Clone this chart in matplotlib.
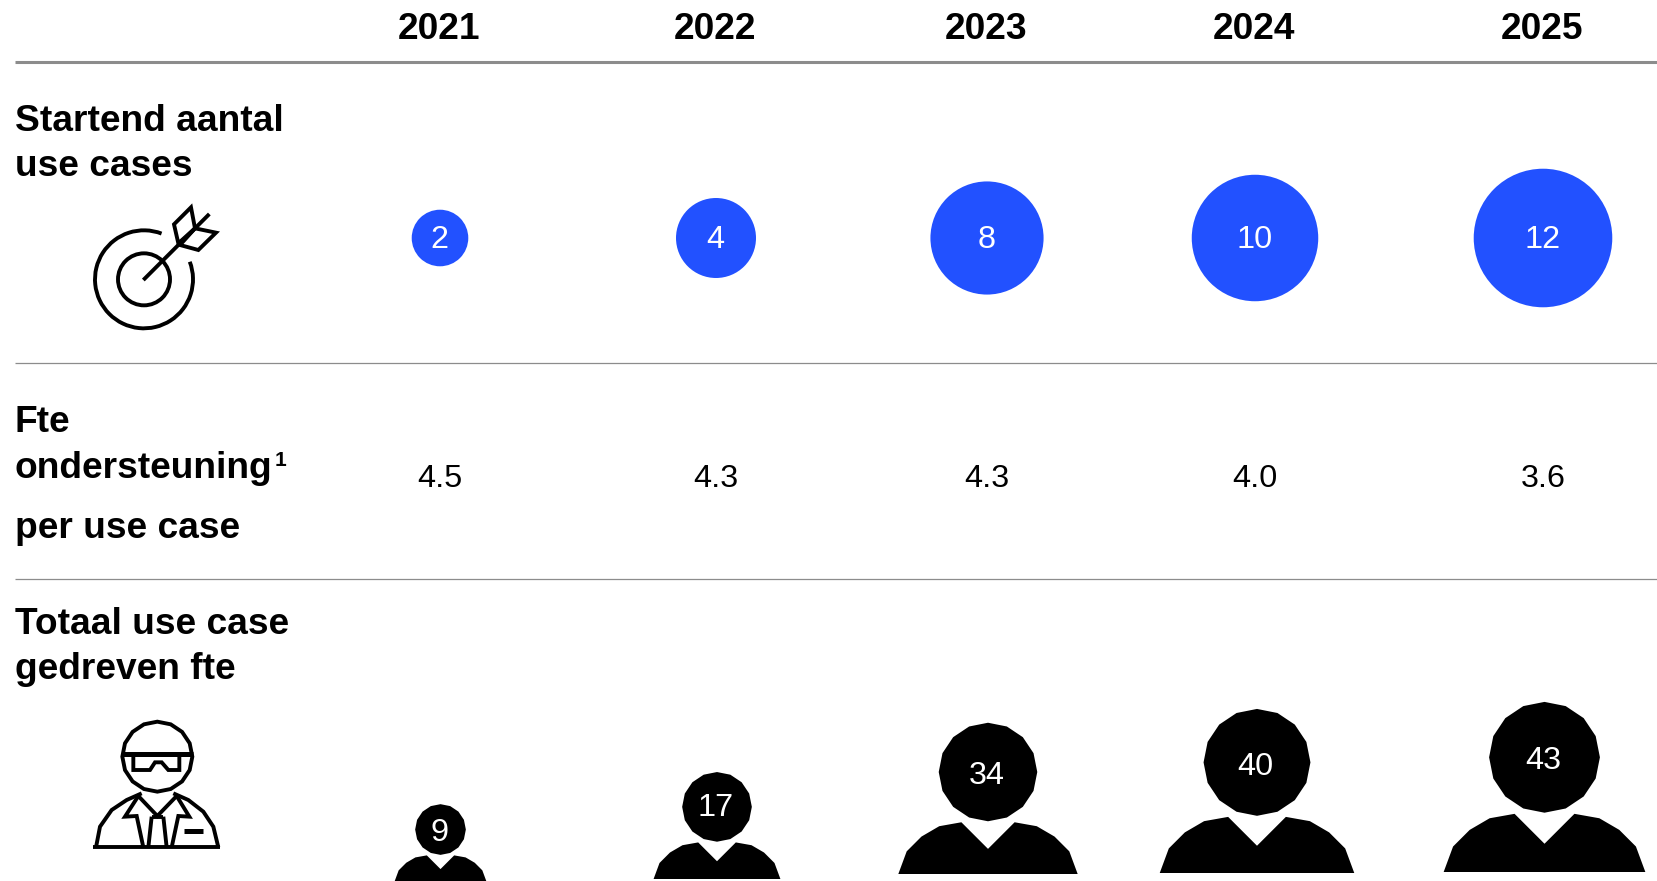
import numpy as np
import matplotlib
matplotlib.use("Agg")
import matplotlib.pyplot as plt
from matplotlib.patches import Circle, Polygon, RegularPolygon, Arc

plt.rcParams['font.family'] = ['Liberation Sans', 'DejaVu Sans']

years = ['2021', '2022', '2023', '2024', '2025']
use_cases = [2, 4, 8, 10, 12]
fte_per_case = ['4.5', '4.3', '4.3', '4.0', '3.6']
total_fte = [9, 17, 34, 40, 43]

# layout, in pixels
col_x = [440, 716, 987, 1255, 1543]
person_x = [440.5, 717, 988, 1257, 1544.5]
feet_y = [882, 879, 874, 873, 872]
person_label_dy = [11, 9, 12, 13, 12]
bubble_y = 238
bubble_k = 20.0    # radius per sqrt(value)
person_k = 8.45
BLUE = '#2251FF'
GREY = '#8c8c8c'

fig = plt.figure(figsize=(16.58, 8.81), dpi=100)
ax = fig.add_axes([0, 0, 1, 1])
ax.set_xlim(0, 1658)
ax.set_ylim(881, 0)
ax.axis('off')

BIG = 26.7
NUM = 23.3

# header and separators
for x, y in zip(col_x, years):
    ax.text(x - 1, 39, y, ha='center', va='baseline', fontsize=BIG, fontweight='bold')
ax.plot([15, 1658], [61.5, 61.5], color=GREY, lw=2.2, solid_capstyle='butt')
for y in [363, 578.5]:
    ax.plot([15, 1658], [y, y], color=GREY, lw=0.9, solid_capstyle='butt')

# row titles
rows = [('Startend aantal', 131), ('use cases', 175.5), ('Fte', 432),
        ('ondersteuning', 478), ('per use case', 538), ('Totaal use case', 634),
        ('gedreven fte', 679)]
for s, y in rows:
    ax.text(15, y, s, ha='left', va='baseline', fontsize=BIG, fontweight='bold')
ax.text(274.5, 466.5, '1', ha='left', va='baseline', fontsize=15, fontweight='bold')

# use case bubbles, area follows the value
for x, v in zip(col_x, use_cases):
    ax.add_patch(Circle((x, bubble_y), bubble_k * np.sqrt(v), fc=BLUE, ec='none'))
    ax.text(x - 0.5, bubble_y + 10.5, str(v), ha='center', va='baseline', fontsize=NUM, color='white')

# fte per use case
for x, s in zip(col_x, fte_per_case):
    ax.text(x, 487, s, ha='center', va='baseline', fontsize=NUM)

# people, head area follows the value
shoulder = np.array([(-0.54, 1.02), (-0.99, 1.10), (-1.35, 1.31), (-1.65, 1.61), (-1.82, 2.07)])
for x, lx, bottom, v, dy in zip(person_x, col_x, feet_y, total_fte, person_label_dy):
    r = person_k * np.sqrt(v)
    cy = bottom - 2.07 * r
    ax.add_patch(RegularPolygon((x, cy), 16, radius=r, fc='black', ec='none'))
    right = shoulder[::-1] * [-1, 1]
    body = np.vstack([[(0, 1.56)], shoulder, right])
    ax.add_patch(Polygon(np.c_[x + body[:, 0] * r, cy + body[:, 1] * r], fc='black', ec='none'))
    ax.text(lx, cy + dy, str(v), ha='center', va='baseline', fontsize=NUM, color='white')


# target icon
def t_xy(pts):
    return [(60 + a / 3, 190 + b / 3) for a, b in pts]


LW = 2.8
cx, cy = t_xy([(252, 268)])[0]
ax.add_patch(Arc((cx, cy), 98, 98, theta1=-21, theta2=291, ec='black', lw=LW))
ax.add_patch(Circle((cx, cy), 26, fc='none', ec='black', lw=LW))
arrow = t_xy([(250, 270), (448, 72)])
ax.plot(*zip(*arrow), color='black', lw=LW, solid_capstyle='butt')
ax.add_patch(Polygon(t_xy([(355, 160), (342, 103), (393, 52), (405, 115)]), closed=True, fc='none', ec='black', lw=LW, joinstyle='miter'))
ax.add_patch(Polygon(t_xy([(360, 165), (415, 180), (468, 128), (405, 115)]), closed=True, fc='none', ec='black', lw=LW, joinstyle='miter'))


# worker icon
def w_xy(pts):
    return [(70 + a / 3, 710 + b / 3) for a, b in pts]


def w_line(pts, lw=LW):
    xs, ys = zip(*w_xy(pts))
    ax.plot(xs, ys, color='black', lw=lw, solid_joinstyle='miter', solid_capstyle='butt')


hx, hy = w_xy([(262, 140)])[0]
ax.add_patch(RegularPolygon((hx, hy), 16, radius=35, fc='none', ec='black', lw=LW))
w_line([(155, 133), (368, 133)], lw=3.6)
w_line([(190, 135), (190, 180), (240, 180), (255, 157), (275, 157), (295, 180), (328, 180), (328, 135)])
w_line([(78, 412), (90, 350), (125, 300), (170, 270), (215, 250)])
w_line([(310, 250), (355, 270), (400, 305), (430, 350), (445, 412)])
w_line([(70, 412), (450, 412)])
w_line([(205, 258), (165, 320), (200, 318), (220, 412)])
w_line([(320, 258), (358, 320), (325, 318), (305, 412)])
w_line([(205, 258), (262, 318), (320, 258)])
w_line([(245, 320), (280, 320)])
w_line([(245, 320), (235, 412)])
w_line([(280, 320), (290, 412)])
w_line([(343, 363), (398, 363)], lw=3.6)

fig.savefig('out.png', dpi=100)
